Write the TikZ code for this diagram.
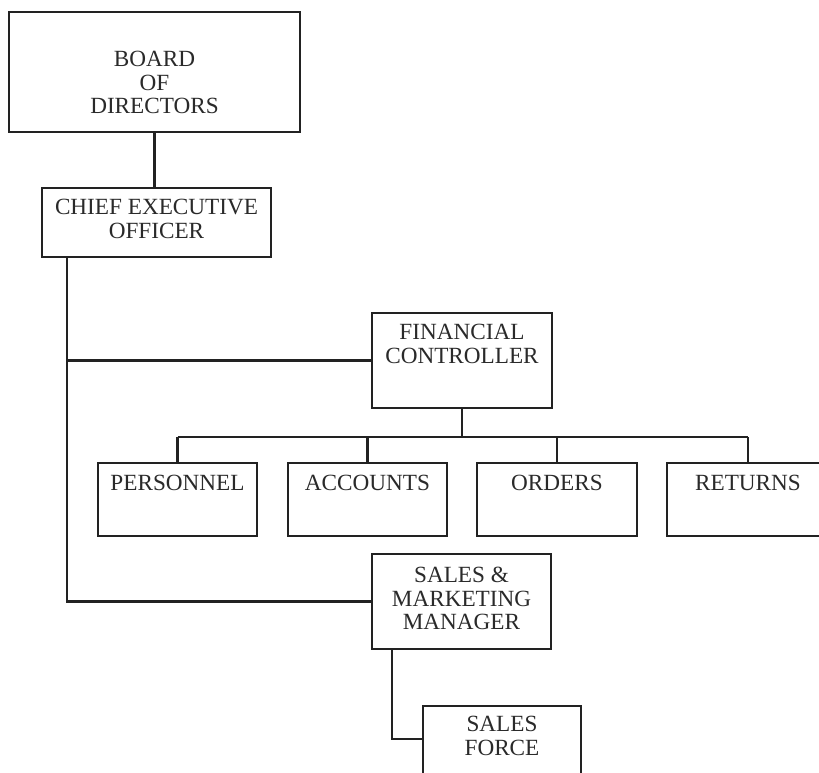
\documentclass[tikz,border=0pt]{standalone}
\usepackage{fontspec}
\setmainfont{Liberation Serif}
\usetikzlibrary{calc}
\definecolor{ink}{HTML}{222222}
\definecolor{txt}{HTML}{2A2A2A}
\begin{document}
\begin{tikzpicture}[x=1pt,y=-1pt,
  orgbox/.style={draw=ink, line width=1.8pt, rectangle, inner sep=0pt},
  lbl/.style={inner sep=0pt, anchor=north, align=center, text=txt,
    font=\fontsize{23.2}{23.5}\selectfont},
  link/.style={draw=ink, line width=2.6pt}]
\useasboundingbox (0,0) rectangle (819,773);
\clip (0,0) rectangle (819,773);
\fill[white] (0,0) rectangle (819,773);

% boxes
\node[orgbox, minimum width=291, minimum height=120] (board) at (154.5,72) {};
\node[orgbox, minimum width=229, minimum height=69]  (ceo)   at (156.5,222.5) {};
\node[orgbox, minimum width=180, minimum height=95]  (fc)    at (462,360.5) {};
\node[orgbox, minimum width=159, minimum height=73]  (pers)  at (177.5,499.5) {};
\node[orgbox, minimum width=159, minimum height=73]  (acc)   at (367.5,499.5) {};
\node[orgbox, minimum width=160, minimum height=73]  (ords)  at (557,499.5) {};
\node[orgbox, minimum width=162, minimum height=73]  (ret)   at (748,499.5) {};
\node[orgbox, minimum width=179, minimum height=95]  (smm)   at (461.5,601.5) {};
\node[orgbox, minimum width=158, minimum height=72]  (sf)    at (502,742) {};

% labels
\node[lbl] (board-t) at (154.5,51)  {BOARD\\OF\\DIRECTORS};
\node[lbl] (ceo-t)   at (156.5,199) {CHIEF EXECUTIVE\\OFFICER};
\node[lbl] (fc-t)    at (462,324)   {FINANCIAL\\CONTROLLER};
\node[lbl] (pers-t)  at (177.5,475) {PERSONNEL};
\node[lbl] (acc-t)   at (367.5,475) {ACCOUNTS};
\node[lbl] (ords-t)  at (557,475)   {ORDERS};
\node[lbl] (ret-t)   at (748,475)   {RETURNS};
\node[lbl] (smm-t)   at (461.5,567) {SALES \&\\MARKETING\\MANAGER};
\node[lbl] (sf-t)    at (502,716)   {SALES\\FORCE};

% connectors
\draw[link] (board.south) -- (board.south |- ceo.north);
\coordinate (spine) at ($(ceo.south west)+(26,0)$);
\draw[link] (spine) |- (smm.west);
\draw[link] (spine |- fc.west) -- (fc.west);
\coordinate (bus) at ($(fc.south)+(0,28)$);
\draw[link] (fc.south) -- (bus);
\draw[link] (pers.north |- bus) -- (ret.north |- bus);
\foreach \b in {pers,acc,ords,ret}
  \draw[link] (\b.north) -- (\b.north |- bus);
\coordinate (drop) at ($(smm.south west)+(21,0)$);
\draw[link] (drop) |- ($(sf.north west)+(0,34)$);
\end{tikzpicture}
\end{document}
